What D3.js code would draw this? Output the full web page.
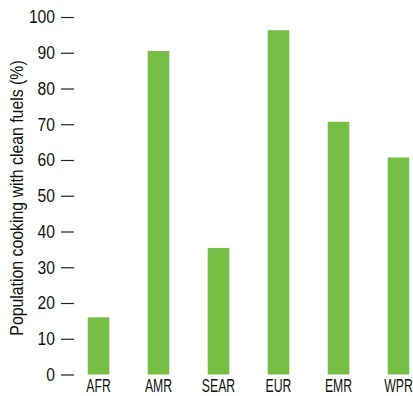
<!DOCTYPE html>
<html>
<head>
<meta charset="utf-8">
<script src="https://cdn.jsdelivr.net/npm/d3@7"></script>
<style>
  body { margin: 0; background: #fff; }
  svg text { font-family: 'Liberation Sans', Arial, sans-serif; fill: #111; }
</style>
</head>
<body>
<svg width="413" height="396"></svg>
<script>
const regions = ['AFR', 'AMR', 'SEAR', 'EUR', 'EMR', 'WPR']
const cleanFuels = [16, 90.5, 35.4, 96.3, 70.7, 60.7]
const yTicks = [0, 10, 20, 30, 40, 50, 60, 70, 80, 90, 100]

const data = regions.map((r, i) => ({ region: r, value: cleanFuels[i] }))

const svg = d3.select('svg')

// no narrow font installed, so squeeze text horizontally
const squeeze = (sel, s) => {
  sel.each(function () {
    const t = d3.select(this)
    const x = +t.attr('x') || 0
    t.attr('x', 0).attr('transform', `translate(${x},0) scale(${s},1)`)
  })
}

// scales
const xScale = d3.scaleBand()
  .domain(regions)
  .range([68.5, 428.5])
  .paddingInner(0.64)
  .paddingOuter(0.32)

const yScale = d3.scaleLinear()
  .domain([0, 100])
  .range([374.5, 17])

// bars
svg.selectAll('rect')
  .data(data)
  .enter().append('rect')
  .attr('x', d => xScale(d.region))
  .attr('y', d => yScale(d.value))
  .attr('width', xScale.bandwidth())
  .attr('height', d => yScale(0) - yScale(d.value))
  .attr('fill', '#76bf45')

// y axis, ticks only
const yAxis = d3.axisLeft(yScale)
  .tickValues(yTicks)
  .tickSize(13)
  .tickPadding(6)

svg.append('g')
  .attr('transform', 'translate(74, 0)')
  .call(yAxis)
  .call(g => g.select('.domain').remove())
  .call(g => g.selectAll('line').attr('stroke', '#222').attr('stroke-width', 1.2))
  .call(g => g.selectAll('text').attr('font-size', 18).attr('font-family', null).call(squeeze, 0.87))

// x axis labels
const xAxis = d3.axisBottom(xScale)
  .tickSize(0)

svg.append('g')
  .attr('transform', 'translate(0, 374.5)')
  .call(xAxis)
  .call(g => g.select('.domain').remove())
  .call(g => g.selectAll('text')
    .attr('font-size', 18)
    .attr('font-family', null)
    .attr('y', 17.5)
    .attr('dy', 0)
    .call(squeeze, 0.68))

// y axis title
svg.append('text')
  .attr('transform', 'translate(23, 198) rotate(-90) scale(0.88,1)')
  .attr('text-anchor', 'middle')
  .attr('font-size', 18)
  .text('Population cooking with clean fuels (%)')
</script>
</body>
</html>
